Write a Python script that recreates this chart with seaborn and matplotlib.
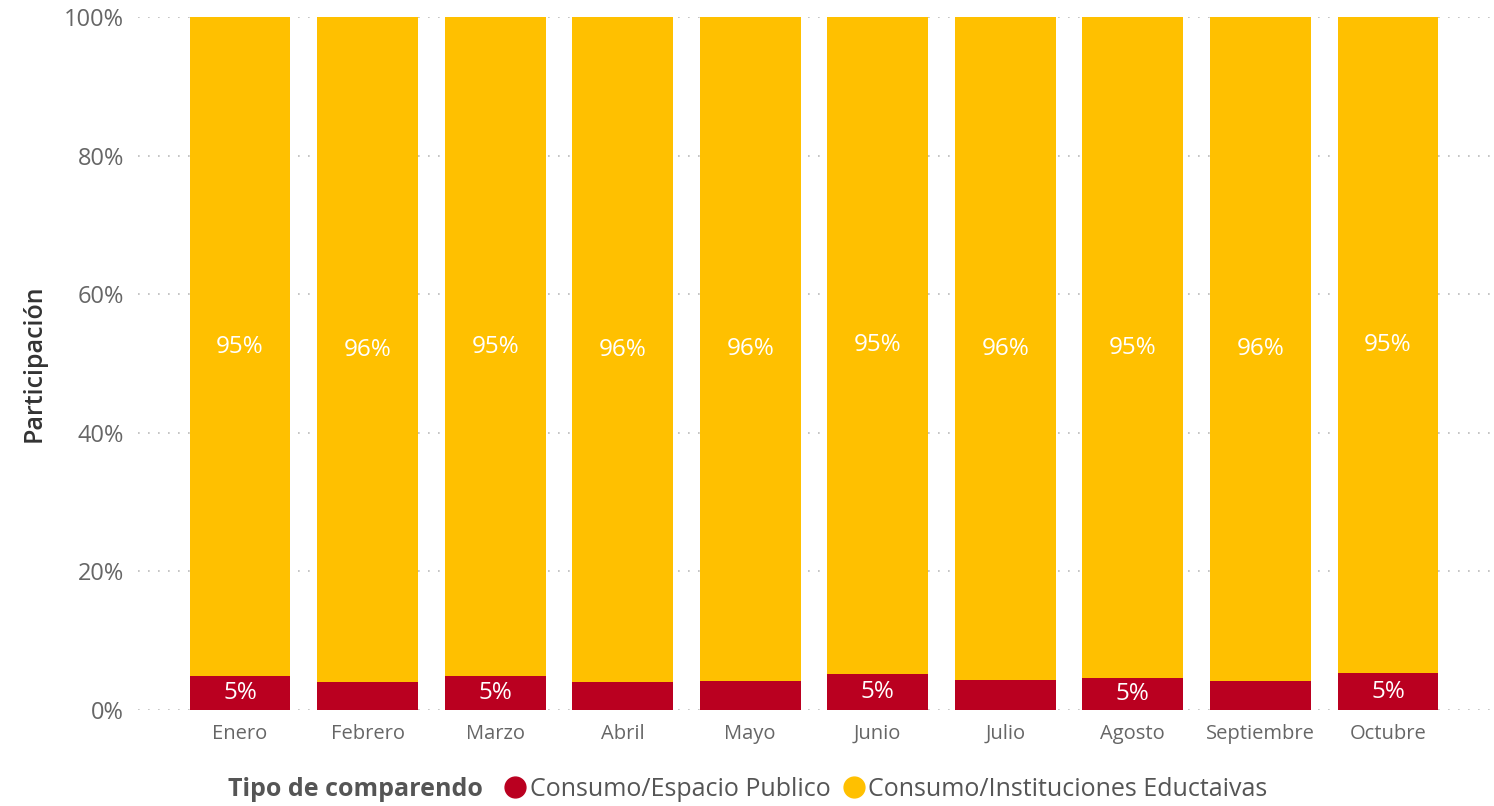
import matplotlib
matplotlib.use("Agg")
import matplotlib.pyplot as plt
import seaborn as sns
import pandas as pd
from matplotlib.lines import Line2D

meses = ["Enero", "Febrero", "Marzo", "Abril", "Mayo", "Junio", "Julio",
         "Agosto", "Septiembre", "Octubre"]
espacio_publico = [4.9, 4.0, 4.9, 4.0, 4.2, 5.2, 4.3, 4.6, 4.2, 5.3]
instituciones = [100 - v for v in espacio_publico]
y_ticks = [0, 20, 40, 60, 80, 100]
serie_nombres = ["Consumo/Espacio Publico", "Consumo/Instituciones Eductaivas"]

RED = "#BA0020"
YELLOW = "#FFC000"
FONT = "Open Sans"

sns.set_theme(style="white")
plt.rcParams["font.family"] = [FONT, "DejaVu Sans"]

fig = plt.figure(figsize=(14.94, 8.06), dpi=100)
ax = fig.add_axes([138 / 1494, 96 / 806, (1490 - 138) / 1494, (710 - 17) / 806])

df = pd.DataFrame({"mes": meses, "rojo": espacio_publico, "amarillo": instituciones})
df["total"] = df["rojo"] + df["amarillo"]

sns.barplot(data=df, x="mes", y="total", color=YELLOW, width=0.79,
            saturation=1, ax=ax, zorder=2, linewidth=0, edgecolor="none")
sns.barplot(data=df, x="mes", y="rojo", color=RED, width=0.79,
            saturation=1, ax=ax, zorder=3, linewidth=0, edgecolor="none")

for i, (r, a) in enumerate(zip(espacio_publico, instituciones)):
    ax.text(i, r + a / 2, f"{round(a)}%", ha="center", va="center",
            color="white", fontsize=17.5, zorder=5)
    if round(r) >= 5:
        ax.text(i, r / 2, f"{round(r)}%", ha="center", va="center",
                color="white", fontsize=17.5, zorder=5)

ax.set_xlim(-0.8, 9.8)
ax.set_ylim(0, 100)
ax.set_yticks(y_ticks)
ax.set_yticklabels([f"{t}%" for t in y_ticks], fontsize=17, color="#666666")
ax.tick_params(axis="x", labelsize=14.5, colors="#666666", length=0, pad=10)
ax.tick_params(axis="y", length=0, pad=10)
ax.set_xlabel("")
ax.set_ylabel("Participación", fontsize=18, color="#333333", fontweight="semibold")
ax.yaxis.set_label_coords(-(138 - 47) / 1352, 0.5)
ax.yaxis.grid(True, linestyle=(0, (1, 5)), color="#BBBBBB", linewidth=1.2, zorder=0)
ax.xaxis.grid(False)
for s in ax.spines.values():
    s.set_visible(False)
ax.set_axisbelow(True)

fig.text(228 / 1494, 17 / 806, "Tipo de comparendo", fontsize=18, fontweight="bold",
         color="#555555", va="center", ha="left")
handles = [Line2D([0], [0], marker="o", linestyle="", markersize=15,
                  markerfacecolor=c, markeredgecolor=c) for c in (RED, YELLOW)]
fig.legend(handles, serie_nombres, loc="center left",
           bbox_to_anchor=(490 / 1494, 17 / 806), ncol=2, frameon=False,
           fontsize=18, handletextpad=-0.42, columnspacing=-0.05,
           labelcolor="#555555", borderaxespad=0, borderpad=0)

fig.savefig("out.png", dpi=100)
